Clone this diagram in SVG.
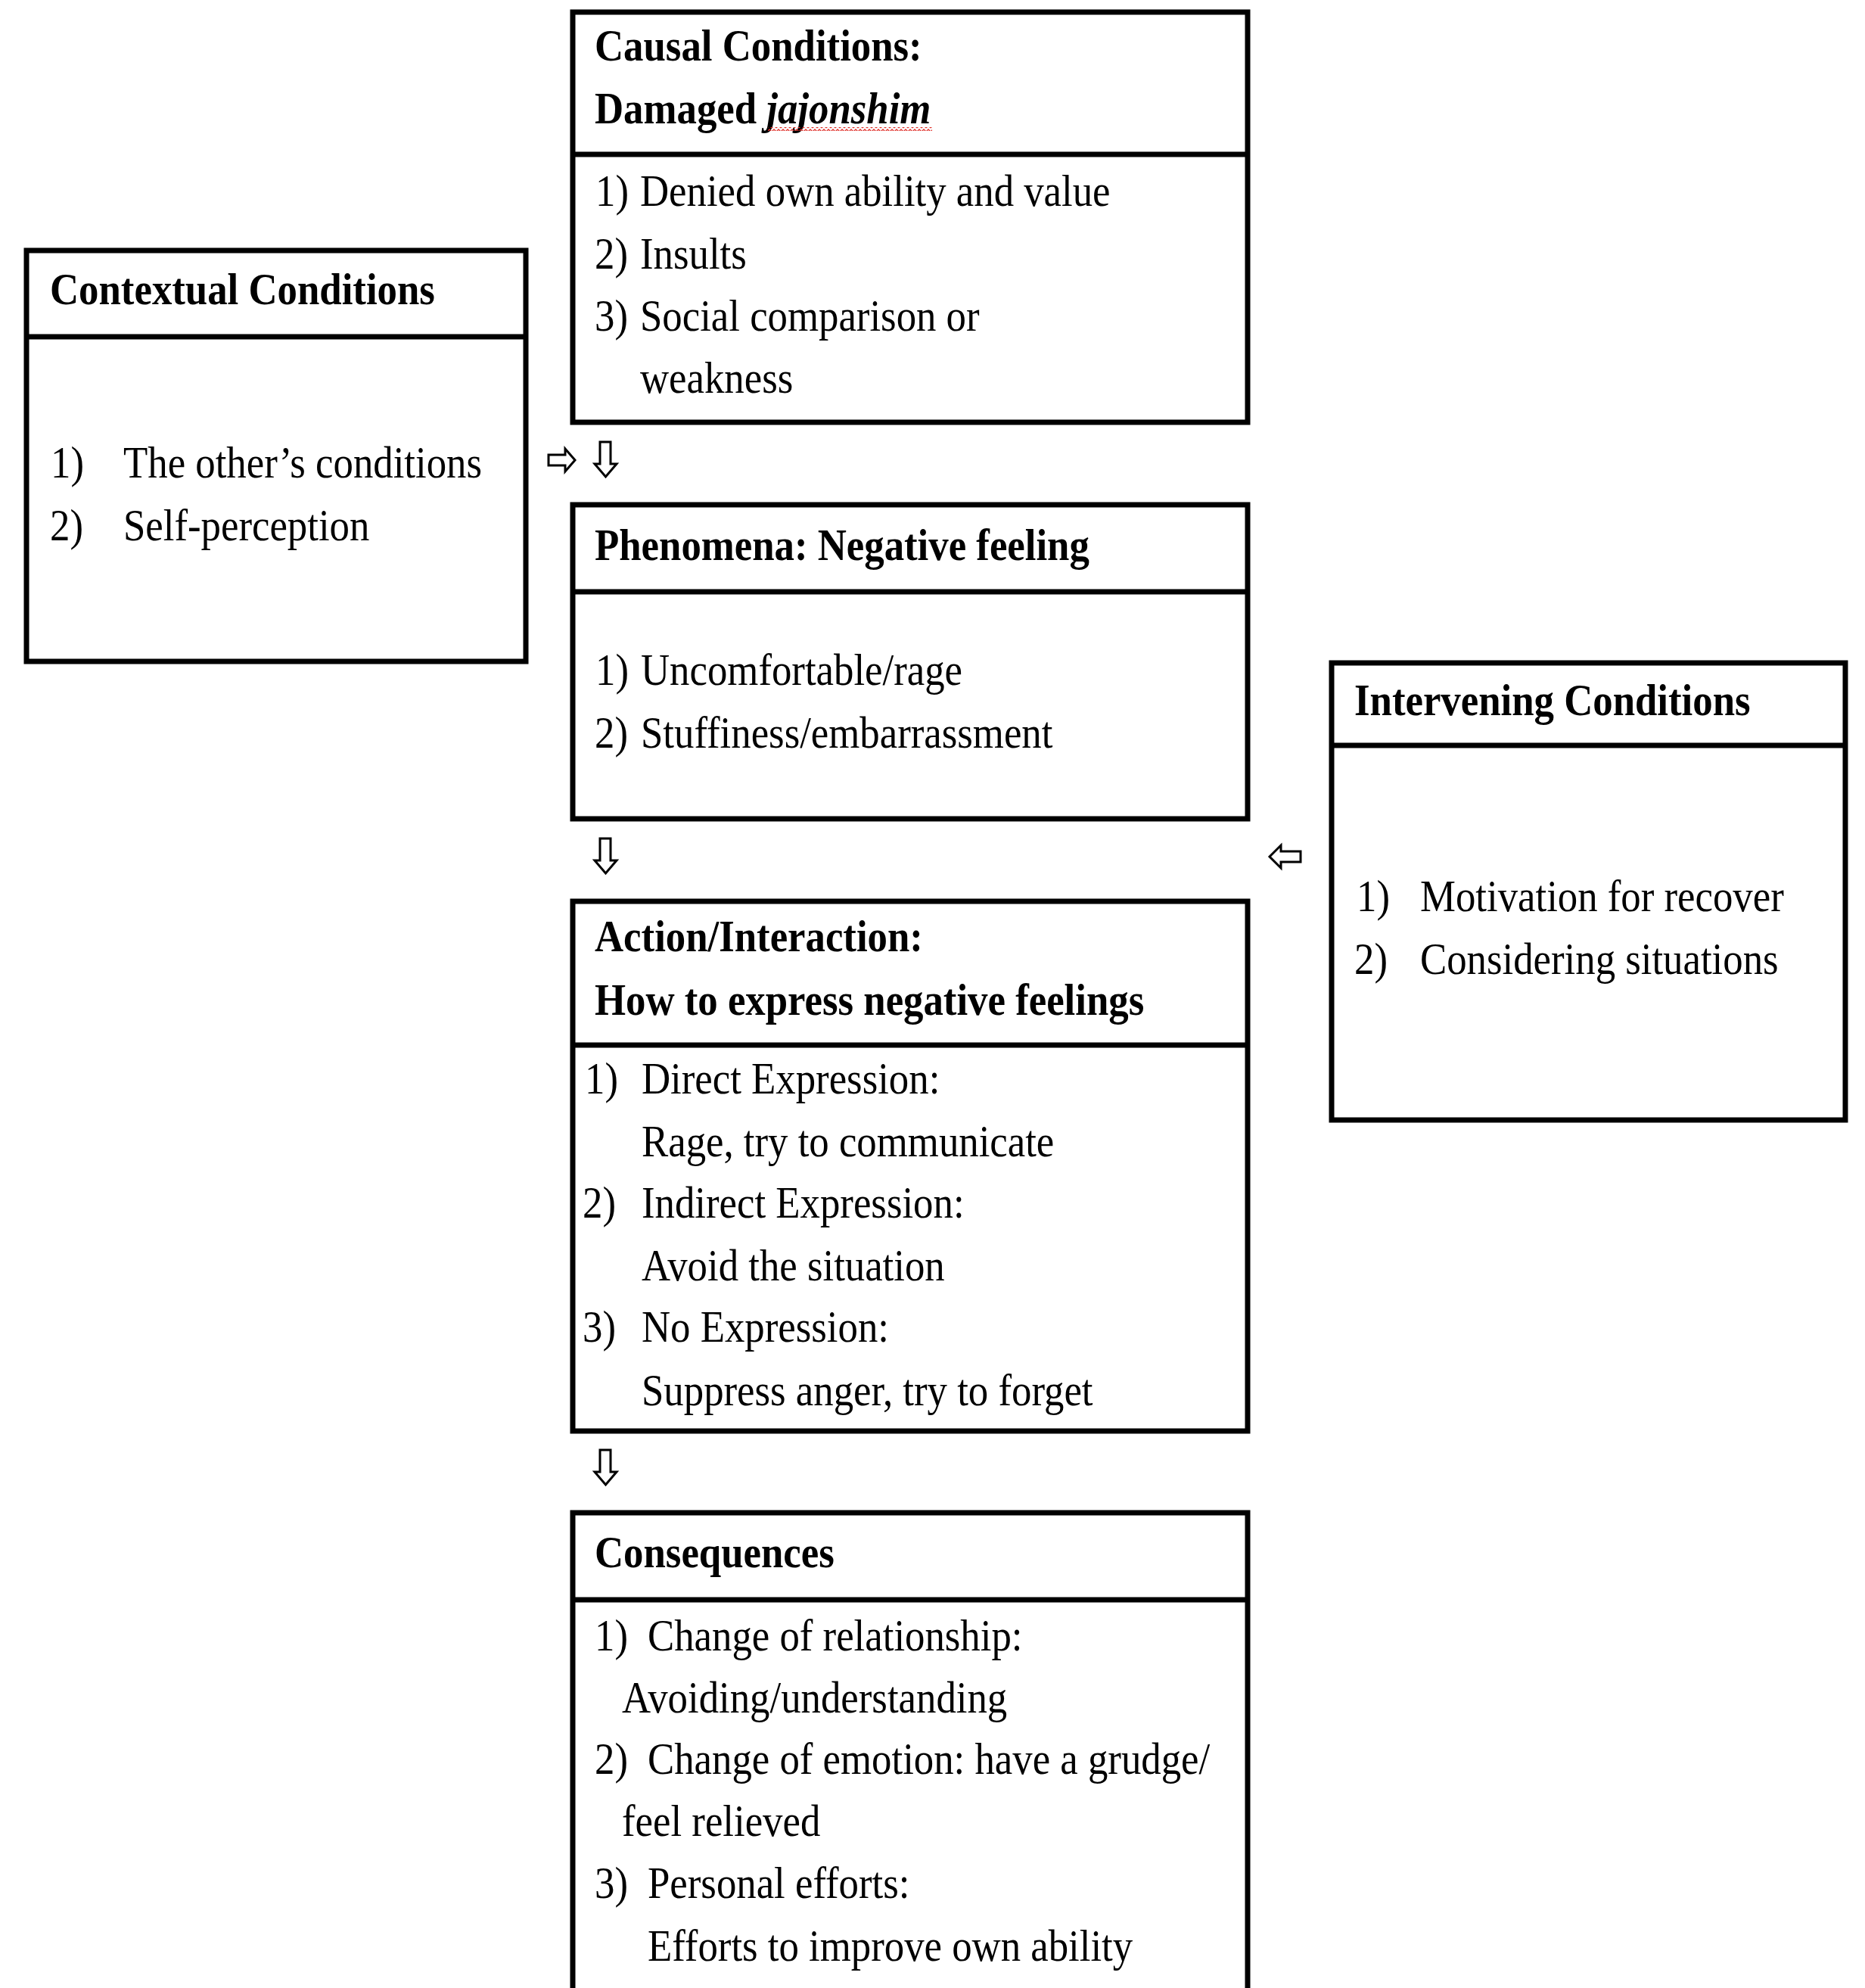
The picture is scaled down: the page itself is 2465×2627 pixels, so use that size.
<svg xmlns="http://www.w3.org/2000/svg" width="2465" height="2627" viewBox="0 0 2465 2627">
<style>
.bg{fill:#fff}
.box{fill:none;stroke:#000;stroke-width:7}
.div{stroke:#000;stroke-width:7}
.t{font-family:"Liberation Serif","Times New Roman",serif;font-size:60px;fill:#000}
.b{font-weight:bold}
.i{font-style:italic}
.arrow{fill:#fff;stroke:#000;stroke-width:3;stroke-linejoin:miter}
</style>
<defs>
<path id="down" d="M7,0 L21,0 L21,29 L29,29 L14.5,46 L0,29 L7,29 Z"/>
<pattern id="squiggle" x="0" y="0" width="6" height="5" patternUnits="userSpaceOnUse">
<path d="M0,4 L3,1 L6,4" fill="none" stroke="#e0302a" stroke-width="1.3"/>
</pattern>
</defs>
<rect class="bg" x="0" y="0" width="2465" height="2627"/>

<g id="causal-conditions">
<rect class="box" x="757" y="16" width="892" height="542"/>
<line class="div" x1="757" y1="204" x2="1649" y2="204"/>
<text class="t b" transform="translate(786 80) scale(0.88 1)">Causal Conditions:</text>
<text class="t b" transform="translate(786 163) scale(0.88 1)">Damaged <tspan class="i">jajonshim</tspan></text>
<rect x="1015" y="168" width="217" height="5" fill="url(#squiggle)"/>
<text class="t" transform="translate(787 272) scale(0.88 1)">1)</text>
<text class="t" transform="translate(846 272) scale(0.88 1)">Denied own ability and value</text>
<text class="t" transform="translate(786 355) scale(0.88 1)">2)</text>
<text class="t" transform="translate(846 355) scale(0.88 1)">Insults</text>
<text class="t" transform="translate(786 437) scale(0.88 1)">3)</text>
<text class="t" transform="translate(846 437) scale(0.88 1)">Social comparison or</text>
<text class="t" transform="translate(846 519) scale(0.88 1)">weakness</text>
</g>

<g id="contextual-conditions">
<rect class="box" x="35" y="331" width="660" height="543"/>
<line class="div" x1="35" y1="445" x2="695" y2="445"/>
<text class="t b" transform="translate(66 402) scale(0.88 1)">Contextual Conditions</text>
<text class="t" transform="translate(67 631) scale(0.88 1)">1)</text>
<text class="t" transform="translate(163 631) scale(0.88 1)">The other’s conditions</text>
<text class="t" transform="translate(66 714) scale(0.88 1)">2)</text>
<text class="t" transform="translate(163 714) scale(0.88 1)">Self-perception</text>
</g>

<g id="phenomena">
<rect class="box" x="757" y="667" width="892" height="415"/>
<line class="div" x1="757" y1="782" x2="1649" y2="782"/>
<text class="t b" transform="translate(786 740) scale(0.88 1)">Phenomena: Negative feeling</text>
<text class="t" transform="translate(787 905) scale(0.88 1)">1)</text>
<text class="t" transform="translate(847 905) scale(0.88 1)">Uncomfortable/rage</text>
<text class="t" transform="translate(786 988) scale(0.88 1)">2)</text>
<text class="t" transform="translate(847 988) scale(0.88 1)">Stuffiness/embarrassment</text>
</g>

<g id="intervening-conditions">
<rect class="box" x="1760" y="876" width="679" height="604"/>
<line class="div" x1="1760" y1="985" x2="2439" y2="985"/>
<text class="t b" transform="translate(1790 945) scale(0.88 1)">Intervening Conditions</text>
<text class="t" transform="translate(1793 1204) scale(0.88 1)">1)</text>
<text class="t" transform="translate(1877 1204) scale(0.88 1)">Motivation for recover</text>
<text class="t" transform="translate(1790 1287) scale(0.88 1)">2)</text>
<text class="t" transform="translate(1877 1287) scale(0.88 1)">Considering situations</text>
</g>

<g id="action-interaction">
<rect class="box" x="757" y="1191" width="892" height="700"/>
<line class="div" x1="757" y1="1381" x2="1649" y2="1381"/>
<text class="t b" transform="translate(786 1257) scale(0.88 1)">Action/Interaction:</text>
<text class="t b" transform="translate(786 1341) scale(0.88 1)">How to express negative feelings</text>
<text class="t" transform="translate(773 1445) scale(0.88 1)">1)</text>
<text class="t" transform="translate(848 1445) scale(0.88 1)">Direct Expression:</text>
<text class="t" transform="translate(848 1528) scale(0.88 1)">Rage, try to communicate</text>
<text class="t" transform="translate(770 1609) scale(0.88 1)">2)</text>
<text class="t" transform="translate(848 1609) scale(0.88 1)">Indirect Expression:</text>
<text class="t" transform="translate(848 1692) scale(0.88 1)">Avoid the situation</text>
<text class="t" transform="translate(770 1773) scale(0.88 1)">3)</text>
<text class="t" transform="translate(848 1773) scale(0.88 1)">No Expression:</text>
<text class="t" transform="translate(848 1857) scale(0.88 1)">Suppress anger, try to forget</text>
</g>

<g id="consequences">
<rect class="box" x="757" y="1999" width="892" height="700"/>
<line class="div" x1="757" y1="2114" x2="1649" y2="2114"/>
<text class="t b" transform="translate(786 2071) scale(0.88 1)">Consequences</text>
<text class="t" transform="translate(786 2181) scale(0.88 1)">1)</text>
<text class="t" transform="translate(856 2181) scale(0.88 1)">Change of relationship:</text>
<text class="t" transform="translate(822 2263) scale(0.88 1)">Avoiding/understanding</text>
<text class="t" transform="translate(786 2344) scale(0.88 1)">2)</text>
<text class="t" transform="translate(856 2344) scale(0.88 1)">Change of emotion: have a grudge/</text>
<text class="t" transform="translate(822 2426) scale(0.88 1)">feel relieved</text>
<text class="t" transform="translate(786 2508) scale(0.88 1)">3)</text>
<text class="t" transform="translate(856 2508) scale(0.88 1)">Personal efforts:</text>
<text class="t" transform="translate(856 2591) scale(0.88 1)">Efforts to improve own ability</text>
</g>

<g id="connectors">
<path class="arrow" d="M725,601 L747,601 L747,593 L760,608 L747,623 L747,615 L725,615 Z"/>
<use class="arrow" href="#down" transform="translate(786 584)"/>
<use class="arrow" href="#down" transform="translate(786 1108)"/>
<path class="arrow" d="M1678,1132 L1693,1117 L1693,1125 L1719,1125 L1719,1139 L1693,1139 L1693,1147 Z"/>
<use class="arrow" href="#down" transform="translate(786 1916)"/>
</g>
</svg>
